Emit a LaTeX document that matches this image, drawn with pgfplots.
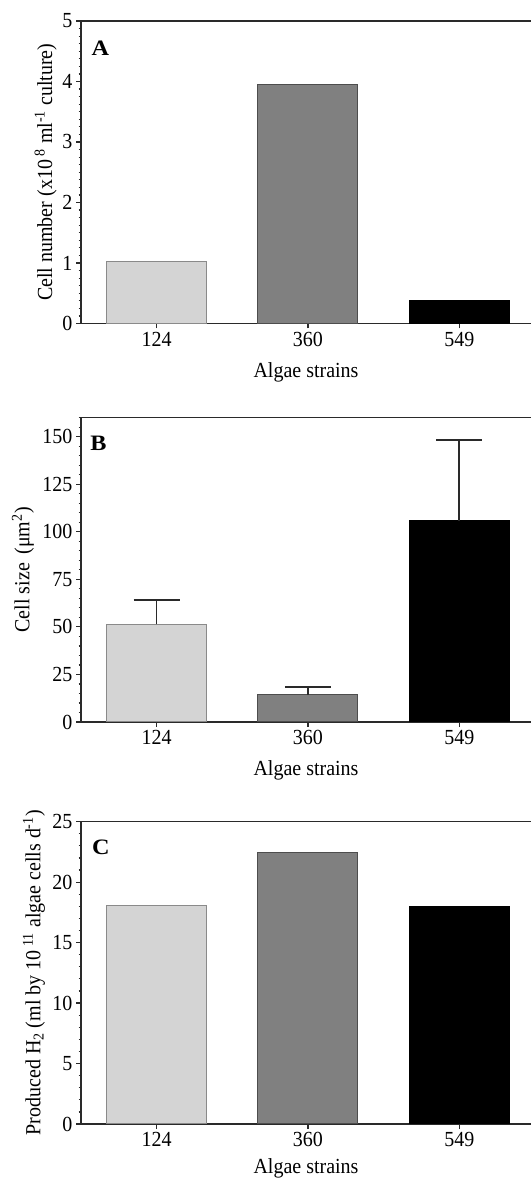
\documentclass[border=0pt]{standalone}
\usepackage{fontspec}
\setmainfont{Liberation Serif}[FakeStretch=0.93]
\newfontfamily\letterfont{Liberation Serif}[FakeStretch=1.1]
\usepackage{pgfplots}
\pgfplotsset{compat=1.18}
\definecolor{axc}{HTML}{2A2A2A}
\definecolor{lgfill}{HTML}{D4D4D4}
\definecolor{lgdraw}{HTML}{8A8A8A}
\definecolor{mgfill}{HTML}{808080}
\definecolor{mgdraw}{HTML}{4D4D4D}
\tikzset{letter/.style={font=\letterfont\fontsize{22}{24}\selectfont\bfseries}}
\pgfplotsset{
  panel/.style={
    scale only axis, width=450pt,
    xmin=-0.5, xmax=2.474, ymin=0,
    axis x line*=box, axis y line*=left,
    axis line style={-, line width=1.6pt, color=axc},
    xtick={0,1,2}, xticklabels={124,360,549},
    xtick pos=bottom, ytick pos=left,
    tick align=outside,
    major tick length=5pt, minor tick length=2.5pt,
    every tick/.style={line width=1.2pt, color=axc},
    tick label style={font=\fontsize{21.5}{24}\selectfont, color=black},
    /pgf/number format/assume math mode=true,
    label style={font=\fontsize{21.5}{24}\selectfont},
    xlabel={Algae strains},
    xlabel style={at={(axis description cs:0.5,0)}, anchor=base, yshift=-54pt},
    ybar, bar width=100pt, bar shift=0pt,
    clip=false,
  },
  b1/.style={fill=lgfill, draw=lgdraw, line width=1pt},
  b2/.style={fill=mgfill, draw=mgdraw, line width=1pt},
  b3/.style={fill=black, draw=black, line width=1pt},
  eb/.style={error bars/.cd, y dir=plus, y explicit,
    error bar style={line width=1.6pt, color=axc},
    error mark options={rotate=90, mark size=23pt, line width=1.6pt, color=axc}},
}
\begin{document}
\begin{tikzpicture}
\useasboundingbox (0,0) rectangle (531pt,1180pt);
% Panel A
\begin{axis}[panel, at={(81pt,856.5pt)}, anchor=south west, height=302.5pt,
  ymax=5, ytick={0,1,2,3,4,5},
  minor ytick={0.125,0.25,...,4.9},
  ylabel={Cell number (x10\textsuperscript{ 8} ml\textsuperscript{-1} culture)},
  ylabel style={at={(axis description cs:-0.0784,0.5)}, anchor=center}]
\addplot[b1] coordinates {(0,1.02)};
\addplot[b2] coordinates {(1,3.95)};
\addplot[b3] coordinates {(2,0.38)};
\node[letter] at (axis description cs:0.043,0.911) {A};
\end{axis}
% Panel B
\begin{axis}[panel, at={(81pt,458pt)}, anchor=south west, height=304.3pt,
  ymax=160, ytick={0,25,50,75,100,125,150},
  minor ytick={0,5,...,160},
  ylabel={Cell size\, (μm\textsuperscript{2})},
  ylabel style={at={(axis description cs:-0.129,0.5)}, anchor=center}]
\addplot[b1, eb] coordinates {(0,51.3) +- (0,12.7)};
\addplot[b2, eb] coordinates {(1,14.4) +- (0,4.0)};
\addplot[b3, eb] coordinates {(2,105.8) +- (0,42.6)};
\node[letter] at (axis description cs:0.039,0.915) {B};
\end{axis}
% Panel C
\begin{axis}[panel, at={(81pt,56pt)}, anchor=south west, height=302.3pt,
  ymax=25, ytick={0,5,10,15,20,25},
  minor ytick={0,1,...,25},
  xlabel style={yshift=4.5pt},
  ylabel={Produced H\textsubscript{2} (ml by 10\textsuperscript{ 11} algae cells d\textsuperscript{-1})},
  ylabel style={at={(axis description cs:-0.1044,0.5)}, anchor=center}]
\addplot[b1] coordinates {(0,18.09)};
\addplot[b2] coordinates {(1,22.48)};
\addplot[b3] coordinates {(2,18.0)};
\node[letter] at (axis description cs:0.044,0.915) {C};
\end{axis}
\end{tikzpicture}
\end{document}
